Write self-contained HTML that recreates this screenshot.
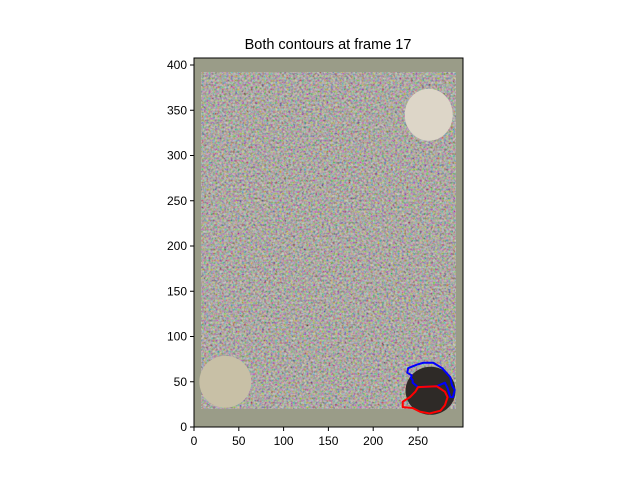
<!DOCTYPE html>
<html><head><meta charset="utf-8"><style>
body{margin:0;background:#fff;font-family:"Liberation Sans","DejaVu Sans",sans-serif}
</style></head><body>
<svg width="640" height="480" viewBox="0 0 640 480">
<defs>
<filter id="noise" x="0" y="0" width="100%" height="100%">
<feTurbulence type="fractalNoise" baseFrequency="0.45" numOctaves="2" seed="4"/>
<feColorMatrix type="matrix" values="1.6 0 0 0 -0.3  0 1.6 0 0 -0.3  0 0 1.6 0 -0.3  0 0 0 0 0.6"/>
</filter>
<clipPath id="axclip"><rect x="194" y="58" width="269" height="369"/></clipPath>
</defs>
<text x="328" y="49" font-size="14.5" text-anchor="middle">Both contours at frame 17</text>
<g id="img" clip-path="url(#axclip)"></g>
<g id="contours" clip-path="url(#axclip)"></g>
<rect x="194" y="58" width="269" height="369" fill="none" stroke="#000" stroke-width="1"/>
<g id="xticks" font-size="12"></g>
<g id="yticks" font-size="12"></g>
</svg>
<script>
const NS="http://www.w3.org/2000/svg";
const xTicks=[0,50,100,150,200,250];
const yTicks=[0,50,100,150,200,250,300,350,400];
const blueX=[244,244,242,243,238,239,249,256,267,277,286,288,291,289,286,283,280,271,250];
const blueY=[49,52,54,57,60,65,69,71,71,65,55,46,41,33,33,43,49,45,44];
const redX=[250,271,280,283,280,275,263,252,244,233,233,241,247];
const redY=[44,45,39,33,24,18,15,17,21,22,28,33,39];
const X=v=>194+v*0.896, Y=v=>427-v*0.905;
function mk(t,a,p){const e=document.createElementNS(NS,t);for(const k in a)e.setAttribute(k,a[k]);p.appendChild(e);return e;}
const img=document.getElementById('img');
let r;
r=mk('rect',{x:X(0),y:Y(408),width:X(300)-X(0),height:Y(0)-Y(408),fill:'#9a9c88'},img);


r=mk('rect',{x:X(8),y:Y(392),width:X(292)-X(8),height:Y(20)-Y(392),fill:'#958c80'},img);


r=mk('rect',{x:X(8),y:Y(392),width:X(292)-X(8),height:Y(20)-Y(392),filter:'url(#noise)'},img);


r=mk('circle',{cx:X(35),cy:Y(50),r:26,fill:'#c8c0a6'},img);


r=mk('ellipse',{cx:X(262),cy:Y(345),rx:24,ry:26,fill:'#ddd6c8'},img);


r=mk('ellipse',{cx:X(264),cy:Y(40),rx:25,ry:24,fill:'#2e2a27'},img);


const cg=document.getElementById('contours');
function contour(xs,ys,c,name){const d=xs.map((x,i)=>(i?'L':'M')+X(x)+','+Y(ys[i])).join('')+'Z';
const p=mk('path',{d:d,fill:'none',stroke:c,'stroke-width':2,'stroke-linejoin':'round'},cg);

}
contour(blueX,blueY,'#0000ff','blue-contour');
contour(redX,redY,'#ff0000','red-contour');
const xg=document.getElementById('xticks'),yg=document.getElementById('yticks');
xTicks.forEach(v=>{mk('line',{x1:X(v),x2:X(v),y1:427,y2:431,stroke:'#000'},xg);
const t=mk('text',{x:X(v),y:445,'text-anchor':'middle'},xg);t.textContent=v;

});
yTicks.forEach(v=>{mk('line',{x1:190,x2:194,y1:Y(v),y2:Y(v),stroke:'#000'},yg);
const t=mk('text',{x:187,y:Y(v)+4,'text-anchor':'end'},yg);t.textContent=v;

});
</script>
</body></html>
